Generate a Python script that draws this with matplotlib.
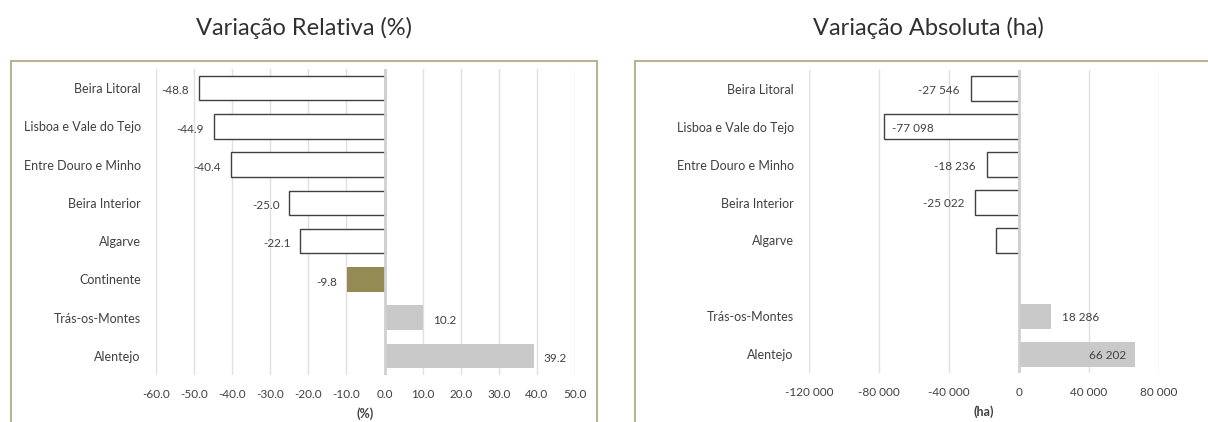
import numpy as np
import matplotlib
matplotlib.use('Agg')
import matplotlib.pyplot as plt
from matplotlib.patches import Rectangle

plt.rcParams['font.family'] = ['Lato', 'DejaVu Sans']

regions = ['Beira Litoral', 'Lisboa e Vale do Tejo', 'Entre Douro e Minho',
           'Beira Interior', 'Algarve', 'Continente', 'Trás-os-Montes', 'Alentejo']
rel_var = [-48.8, -44.9, -40.4, -25.0, -22.1, -9.8, 10.2, 39.2]
abs_var = [-27546, -77098, -18236, -25022, -13000, np.nan, 18286, 66202]
# where the absolute label goes: outside end, inside end, or not shown
abs_label_pos = ['out', 'in', 'out', 'out', None, None, 'out', 'in']

rel_ticks = np.arange(-60, 51, 10)
abs_ticks = [-120000, -80000, -40000, 0, 40000, 80000]

W, H = 1208, 422
DARK = '#404040'
GRID = '#E0E0E0'
OLIVE = '#948A54'
GREY = '#C9C9C9'
FRAME = '#B8B390'


def thousands(v):
    s = f'{abs(v):,.0f}'.replace(',', ' ')
    return ('-' if v < 0 else '') + s


def bar_style(name, v):
    if name == 'Continente':
        return dict(color=OLIVE, edgecolor='none')
    if v < 0:
        return dict(color='white', edgecolor=DARK, linewidth=1.0)
    return dict(color=GREY, edgecolor='none')


def setup(ax, xlim, ticks, fmt, xlabel):
    ax.set_xlim(xlim)
    ax.set_ylim(len(regions) - 0.5, -0.5)
    ax.set_xticks(ticks)
    ax.set_xticklabels([fmt(t) for t in ticks], fontsize=8.5, color='#404040')
    ax.tick_params(axis='x', length=0, pad=10)
    ax.tick_params(axis='y', length=0, pad=11, labelsize=9, labelcolor='#404040')
    for s in ax.spines.values():
        s.set_visible(False)
    ax.grid(axis='x', color=GRID, linewidth=1.0)
    ax.set_axisbelow(True)
    ax.axvline(0, color='#D0D0D0', linewidth=2.0, zorder=1.5)
    ax.set_xlabel(xlabel, fontsize=9, fontweight='bold', color='#404040', labelpad=5)


fig = plt.figure(figsize=(W / 100, H / 100), dpi=100)

# frames around each panel (bottom is cut off in the original)
for x0, x1 in [(11, 597), (635, 1221)]:
    fig.patches.append(Rectangle((x0 / W, -0.2), (x1 - x0) / W, 1.2 - 61 / H,
                                 transform=fig.transFigure, fill=False,
                                 edgecolor=FRAME, linewidth=1.5, clip_on=False))

fig.text(304 / W, 1 - 28 / H, 'Variação Relativa (%)', ha='center', va='center',
         fontsize=17, color='#303030')
fig.text(928 / W, 1 - 28 / H, 'Variação Absoluta (ha)', ha='center', va='center',
         fontsize=17, color='#303030')

# left panel: relative change
ax1 = fig.add_axes([156 / W, 1 - 375 / H, 419 / W, 306 / H])
y = np.arange(len(regions))
for i, (name, v) in enumerate(zip(regions, rel_var)):
    ax1.barh(i, v, height=0.64, **bar_style(name, v))
    off = -7 if v < 0 else 7
    ax1.annotate(f'{v:.1f}', (v, i), xytext=(off, -2), textcoords='offset points',
                 ha='right' if v < 0 else 'left', va='center', fontsize=8.5,
                 color='#404040')
ax1.set_yticks(y)
ax1.set_yticklabels(regions)
setup(ax1, (-60, 50), rel_ticks, lambda t: f'{t:.1f}', '(%)')

# right panel: absolute change
ax2 = fig.add_axes([809 / W, 1 - 373 / H, 350 / W, 303 / H])
for i, (name, v, pos) in enumerate(zip(regions, abs_var, abs_label_pos)):
    if np.isnan(v):
        continue
    ax2.barh(i, v, height=0.66, **bar_style(name, v))
    if pos is None:
        continue
    neg = v < 0
    if pos == 'out':
        off, ha = (-8, 'right') if neg else (8, 'left')
    else:
        off, ha = (6, 'left') if neg else (-6, 'right')
    ax2.annotate(thousands(v), (v, i), xytext=(off, -1), textcoords='offset points',
                 ha=ha, va='center', fontsize=8.5, color='#404040')
ax2.set_yticks(y)
ax2.set_yticklabels(['' if r == 'Continente' else r for r in regions])
setup(ax2, (-120000, 80000), abs_ticks, thousands, '(ha)')

fig.savefig('out.png', dpi=100)
